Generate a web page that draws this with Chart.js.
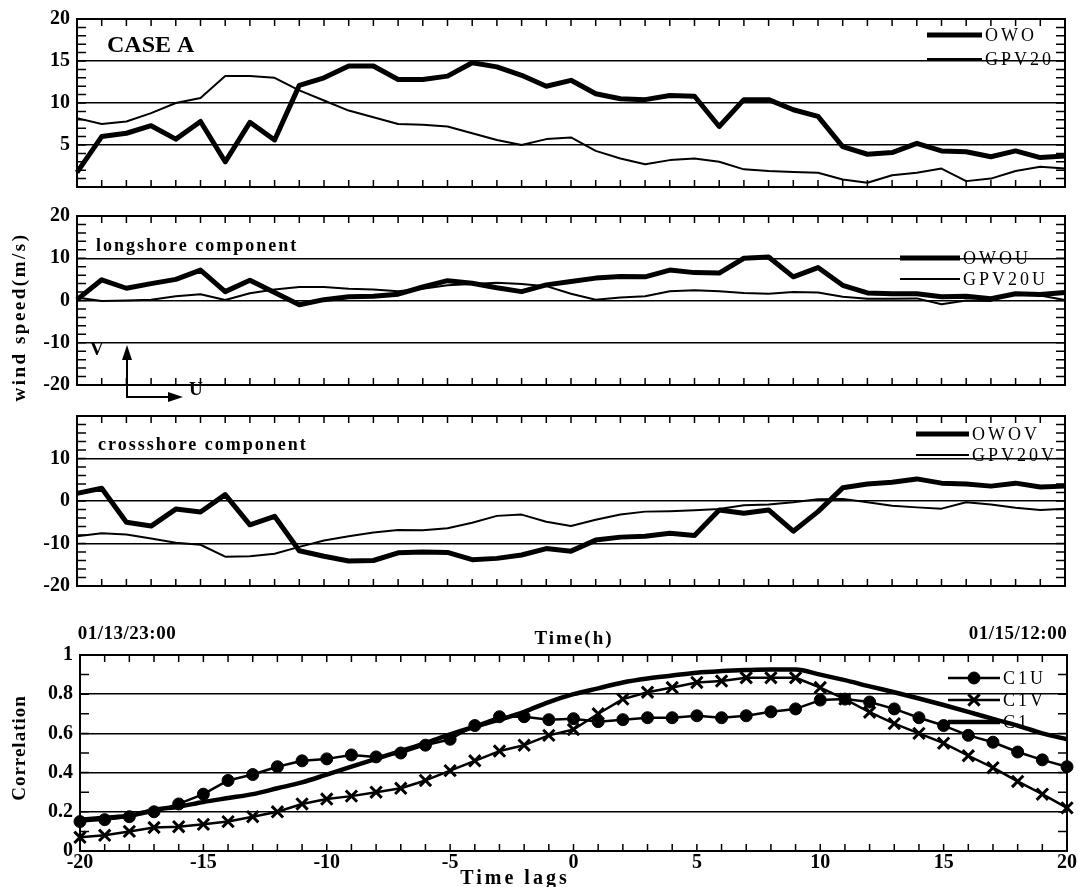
<!DOCTYPE html>
<html>
<head>
<meta charset="utf-8">
<script src="https://cdn.jsdelivr.net/npm/chart.js@4.4.1/dist/chart.umd.min.js"></script>
<style>
  html, body { margin: 0; padding: 0; background: #fff; }
  #wrap { position: relative; width: 1079px; height: 887px; overflow: hidden; font-family: "Liberation Serif", serif; color: #000; }
  #wrap canvas { position: absolute; left: 0; top: 0; }
  .lbl { position: absolute; white-space: nowrap; font-weight: bold; transform: translate(-50%, -50%); }
  .rot { transform: translate(-50%, -50%) rotate(-90deg); }
</style>
</head>
<body>
<div id="wrap">
  <canvas id="p1" width="1079" height="887"></canvas>
  <canvas id="p2" width="1079" height="887"></canvas>
  <canvas id="p3" width="1079" height="887"></canvas>
  <canvas id="p4" width="1079" height="887"></canvas>

  <div class="lbl rot" style="left:19px; top:317px; font-size:19px; letter-spacing:2.5px;">wind speed(m/s)</div>
  <div class="lbl rot" style="left:19px; top:748px; font-size:19px; letter-spacing:1px;">Correlation</div>
  <div class="lbl" style="left:127px; top:633px; font-size:19px; letter-spacing:0.5px;">01/13/23:00</div>
  <div class="lbl" style="left:574px; top:638px; font-size:19px; letter-spacing:2px;">Time(h)</div>
  <div class="lbl" style="left:1018px; top:633px; font-size:19px; letter-spacing:0.5px;">01/15/12:00</div>
  <div class="lbl" style="left:515px; top:877px; font-size:20px; letter-spacing:3px;">Time lags</div>
</div>

<script>
/* ================= DATA ================= */

// hourly steps between 01/13/23:00 and 01/15/12:00 (one tick per record)
const timeSteps = [0, 1, 2, 3, 4, 5, 6, 7, 8, 9, 10, 11, 12, 13, 14, 15, 16, 17, 18, 19, 20,
  21, 22, 23, 24, 25, 26, 27, 28, 29, 30, 31, 32, 33, 34, 35, 36, 37, 38, 39, 40];

// wind speed (m/s)
const owo = [1.75, 6.0, 6.4, 7.3, 5.7, 7.8, 3.0, 7.7, 5.6, 12.1, 13.0, 14.4, 14.4, 12.8, 12.8, 13.2, 14.8, 14.3, 13.3, 12.0,
  12.7, 11.1, 10.5, 10.4, 10.9, 10.8, 7.2, 10.4, 10.4, 9.2, 8.4, 4.8, 3.9, 4.1, 5.2, 4.3, 4.2, 3.6, 4.3, 3.5, 3.7];
const gpv20 = [8.2, 7.5, 7.8, 8.8, 10.0, 10.6, 13.2, 13.2, 13.0, 11.5, 10.3, 9.1, 8.3, 7.5, 7.4, 7.2, 6.4, 5.6, 5.0, 5.7,
  5.9, 4.3, 3.4, 2.7, 3.2, 3.4, 3.0, 2.1, 1.9, 1.8, 1.7, 0.9, 0.5, 1.4, 1.7, 2.2, 0.7, 1.0, 1.9, 2.4, 2.2];

// longshore component
const owoU = [0.2, 4.9, 2.9, 4.0, 5.0, 7.2, 2.1, 4.8, 1.9, -1.0, 0.2, 0.9, 1.0, 1.5, 3.2, 4.7, 4.1, 3.0, 2.1, 3.7,
  4.5, 5.3, 5.7, 5.6, 7.2, 6.6, 6.5, 10.0, 10.3, 5.6, 7.8, 3.6, 1.8, 1.6, 1.6, 0.9, 1.0, 0.4, 1.6, 1.4, 1.9];
const gpv20U = [0.7, -0.1, 0.0, 0.2, 1.0, 1.5, 0.1, 1.7, 2.6, 3.2, 3.2, 2.8, 2.6, 2.2, 2.8, 3.6, 3.9, 4.2, 3.9, 3.4,
  1.6, 0.2, 0.7, 1.0, 2.2, 2.4, 2.2, 1.8, 1.6, 2.0, 1.9, 0.9, 0.4, 0.4, 0.5, -0.9, 0.0, -0.1, 1.8, 1.2, 0.1];

// crossshore component
const owoV = [1.8, 3.0, -5.0, -5.9, -1.9, -2.6, 1.5, -5.6, -3.6, -11.7, -13.0, -14.1, -14.0, -12.2, -12.0, -12.1, -13.8, -13.5, -12.7, -11.2,
  -11.8, -9.2, -8.5, -8.3, -7.6, -8.1, -2.1, -2.9, -2.1, -7.1, -2.5, 3.1, 4.0, 4.4, 5.2, 4.2, 4.0, 3.5, 4.2, 3.3, 3.5];
const gpv20V = [-8.3, -7.6, -7.9, -8.8, -9.8, -10.3, -13.1, -13.0, -12.4, -10.8, -9.3, -8.3, -7.4, -6.8, -6.9, -6.4, -5.1, -3.5, -3.2, -4.9,
  -5.9, -4.4, -3.2, -2.5, -2.4, -2.2, -1.9, -1.0, -0.8, -0.3, 0.4, 0.5, -0.3, -1.1, -1.5, -1.8, -0.3, -0.8, -1.6, -2.1, -1.8];

// correlation vs time lag (h)
const lags = [-20, -19, -18, -17, -16, -15, -14, -13, -12, -11, -10, -9, -8, -7, -6, -5, -4, -3, -2, -1, 0,
  1, 2, 3, 4, 5, 6, 7, 8, 9, 10, 11, 12, 13, 14, 15, 16, 17, 18, 19, 20];
const c1u = [0.15, 0.16, 0.175, 0.20, 0.24, 0.29, 0.36, 0.39, 0.43, 0.46, 0.47, 0.49, 0.48, 0.50, 0.54, 0.57, 0.64, 0.685, 0.685, 0.67, 0.675,
  0.66, 0.67, 0.68, 0.68, 0.69, 0.68, 0.69, 0.71, 0.725, 0.77, 0.775, 0.76, 0.725, 0.68, 0.64, 0.59, 0.555, 0.505, 0.465, 0.43];
const c1v = [0.07, 0.08, 0.10, 0.12, 0.124, 0.136, 0.15, 0.175, 0.20, 0.24, 0.265, 0.28, 0.30, 0.32, 0.36, 0.41, 0.46, 0.51, 0.54, 0.59, 0.62,
  0.70, 0.775, 0.81, 0.834, 0.86, 0.867, 0.884, 0.884, 0.884, 0.834, 0.775, 0.708, 0.65, 0.60, 0.55, 0.486, 0.425, 0.355, 0.29, 0.22];
const c1 = [0.16, 0.17, 0.18, 0.21, 0.226, 0.25, 0.27, 0.29, 0.32, 0.35, 0.39, 0.43, 0.47, 0.51, 0.55, 0.595, 0.634, 0.67, 0.71, 0.76, 0.80,
  0.83, 0.86, 0.88, 0.895, 0.91, 0.918, 0.923, 0.926, 0.926, 0.90, 0.872, 0.84, 0.81, 0.778, 0.745, 0.71, 0.674, 0.64, 0.60, 0.57];

/* ================= PLUGINS ================= */

const W = 1079, H = 887;
const SERIF = '"Liberation Serif", serif';

// box frame + inward tick marks on all four sides
const frameTicks = {
  id: 'frameTicks',
  afterDatasetsDraw(chart, args, o) {
    const { ctx, chartArea: a } = chart;
    const x = chart.scales.x, y = chart.scales.y;
    ctx.save();
    ctx.strokeStyle = '#000';
    ctx.lineWidth = 1.5;
    ctx.beginPath();
    chart.data.labels.forEach((_, i) => {
      const px = x.getPixelForValue(i);
      ctx.moveTo(px, a.top); ctx.lineTo(px, a.top + o.xLen);
      ctx.moveTo(px, a.bottom); ctx.lineTo(px, a.bottom - o.xLen);
    });
    const n = Math.round((y.max - y.min) / o.yMinor);
    for (let k = 0; k <= n; k++) {
      const py = y.getPixelForValue(y.min + k * o.yMinor);
      ctx.moveTo(a.left, py); ctx.lineTo(a.left + o.yLen, py);
      ctx.moveTo(a.right, py); ctx.lineTo(a.right - o.yLen, py);
    }
    ctx.stroke();
    ctx.lineWidth = 2;
    ctx.strokeRect(a.left, a.top, a.right - a.left, a.bottom - a.top);
    ctx.restore();
  }
};

// in-panel captions, legend and the U/V sketch
const notes = {
  id: 'notes',
  afterDraw(chart, args, o) {
    const ctx = chart.ctx;
    ctx.save();
    ctx.fillStyle = '#000';
    ctx.strokeStyle = '#000';
    ctx.textAlign = 'left';
    ctx.textBaseline = 'middle';

    (o.texts || []).forEach(t => {
      ctx.font = t.font;
      ctx.letterSpacing = t.spacing || '0px';
      ctx.fillText(t.text, t.x, t.y);
    });

    if (o.legend) {
      const L = o.legend;
      chart.data.datasets.forEach((ds, i) => {
        const y = L.y + i * L.gap;
        ctx.lineWidth = ds.borderWidth;
        ctx.beginPath();
        ctx.moveTo(L.x, y);
        ctx.lineTo(L.x + L.len, y);
        ctx.stroke();
        if (ds.pointRadius) {
          ctx.lineWidth = ds.pointBorderWidth || 1;
          Chart.helpers.drawPoint(ctx, {
            pointStyle: ds.pointStyle, radius: ds.pointRadius,
            rotation: 0, borderWidth: ds.pointBorderWidth || 1
          }, L.x + L.len / 2, y);
        }
        ctx.font = L.font;
        ctx.letterSpacing = L.spacing;
        ctx.fillText(ds.label, L.x + L.len + 3, y + 1);
      });
    }

    if (o.arrows) {
      const A = o.arrows;
      ctx.lineWidth = 2;
      ctx.beginPath();
      ctx.moveTo(A.x, A.top + 12); ctx.lineTo(A.x, A.y); ctx.lineTo(A.right - 12, A.y);
      ctx.stroke();
      ctx.beginPath();
      ctx.moveTo(A.x, A.top); ctx.lineTo(A.x - 5, A.top + 15); ctx.lineTo(A.x + 5, A.top + 15); ctx.closePath();
      ctx.moveTo(A.right, A.y); ctx.lineTo(A.right - 15, A.y - 5); ctx.lineTo(A.right - 15, A.y + 5); ctx.closePath();
      ctx.fill();
    }
    ctx.restore();
  }
};

Chart.register(frameTicks, notes);

/* ================= PANELS ================= */

const line = (label, data, width) => ({
  label, data,
  borderColor: '#000',
  borderWidth: width,
  borderJoinStyle: 'round',
  pointRadius: 0,
  tension: 0,
  fill: false
});

function makePanel(id, labels, datasets, box, yCfg, extra) {
  const xAxis = !!box.xAxis;
  return new Chart(document.getElementById(id), {
    type: 'line',
    data: { labels, datasets },
    options: {
      responsive: false,
      animation: false,
      devicePixelRatio: 1,
      events: [],
      layout: {
        padding: { left: 0, top: box.top, right: W - box.right, bottom: H - box.bottom - (xAxis ? 30 : 0) }
      },
      plugins: {
        legend: { display: false },
        tooltip: { enabled: false },
        frameTicks: { xLen: 7, yLen: 9, yMinor: yCfg.minor },
        notes: extra
      },
      scales: {
        x: {
          type: 'category',
          display: xAxis,
          offset: false,
          grid: { display: false, drawTicks: false },
          border: { display: false },
          afterFit: s => { s.height = 30; },
          ticks: {
            autoSkip: false,
            maxRotation: 0,
            padding: 0,
            color: '#000',
            font: { family: SERIF, size: 20, weight: 'bold' },
            callback: (v, i) => (labels[i] % 5 === 0 ? String(labels[i]) : '')
          }
        },
        y: {
          min: yCfg.min,
          max: yCfg.max,
          afterFit: s => { s.width = box.left; },
          afterBuildTicks: s => { s.ticks = yCfg.ticks.map(v => ({ value: v })); },
          grid: { color: '#000', lineWidth: 1.5, drawTicks: false },
          border: { display: true, color: '#000', width: 2 },
          ticks: {
            padding: 7,
            color: '#000',
            font: { family: SERIF, size: 20, weight: 'bold' },
            callback: v => (yCfg.hide.includes(v) ? '' : yCfg.fmt(v))
          }
        }
      }
    }
  });
}

const legendFont = `18px ${SERIF}`;

makePanel('p1', timeSteps,
  [line('OWO', owo, 5), line('GPV20', gpv20, 2)],
  { left: 77, right: 1065, top: 19, bottom: 217 },
  { min: 0, max: 20, ticks: [0, 5, 10, 15, 20], minor: 1, hide: [0], fmt: v => String(v) },
  {
    texts: [{ text: 'CASE A', x: 107, y: 46, font: `bold 24px ${SERIF}` }],
    legend: { x: 927, y: 35, gap: 24, len: 55, font: legendFont, spacing: '3px' }
  });

makePanel('p2', timeSteps,
  [line('OWOU', owoU, 5), line('GPV20U', gpv20U, 2)],
  { left: 77, right: 1065, top: 216, bottom: 415 },
  { min: -20, max: 20, ticks: [-20, -10, 0, 10, 20], minor: 2, hide: [], fmt: v => String(v) },
  {
    texts: [
      { text: 'longshore component', x: 96, y: 246, font: `bold 18px ${SERIF}`, spacing: '2px' },
      { text: 'V', x: 90, y: 350, font: `bold 19px ${SERIF}` },
      { text: 'U', x: 189, y: 390, font: `bold 19px ${SERIF}` }
    ],
    legend: { x: 900, y: 258, gap: 21, len: 60, font: legendFont, spacing: '3px' },
    arrows: { x: 127, y: 397, top: 345, right: 183 }
  });

makePanel('p3', timeSteps,
  [line('OWOV', owoV, 5), line('GPV20V', gpv20V, 2)],
  { left: 77, right: 1065, top: 416, bottom: 616 },
  { min: -20, max: 20, ticks: [-20, -10, 0, 10, 20], minor: 2, hide: [20], fmt: v => String(v) },
  {
    texts: [{ text: 'crossshore component', x: 98, y: 445, font: `bold 18px ${SERIF}`, spacing: '2px' }],
    legend: { x: 916, y: 434, gap: 21, len: 53, font: legendFont, spacing: '3px' }
  });

makePanel('p4', lags,
  [
    Object.assign(line('C1U', c1u, 2.5), {
      pointStyle: 'circle', pointRadius: 6, pointBorderWidth: 1,
      pointBackgroundColor: '#000', pointBorderColor: '#000', clip: 10
    }),
    Object.assign(line('C1V', c1v, 2.5), {
      pointStyle: 'crossRot', pointRadius: 8, pointBorderWidth: 3,
      pointBackgroundColor: '#000', pointBorderColor: '#000', clip: 10
    }),
    Object.assign(line('C1', c1, 4.5), { cubicInterpolationMode: 'monotone' })
  ],
  { left: 80, right: 1067, top: 655, bottom: 851, xAxis: true },
  { min: 0, max: 1, ticks: [0, 0.2, 0.4, 0.6, 0.8, 1], minor: 0.1, hide: [],
    fmt: v => (v === 0 || v === 1 ? String(v) : v.toFixed(1)) },
  {
    legend: { x: 948, y: 678, gap: 22, len: 52, font: legendFont, spacing: '3px' }
  });
</script>
</body>
</html>
